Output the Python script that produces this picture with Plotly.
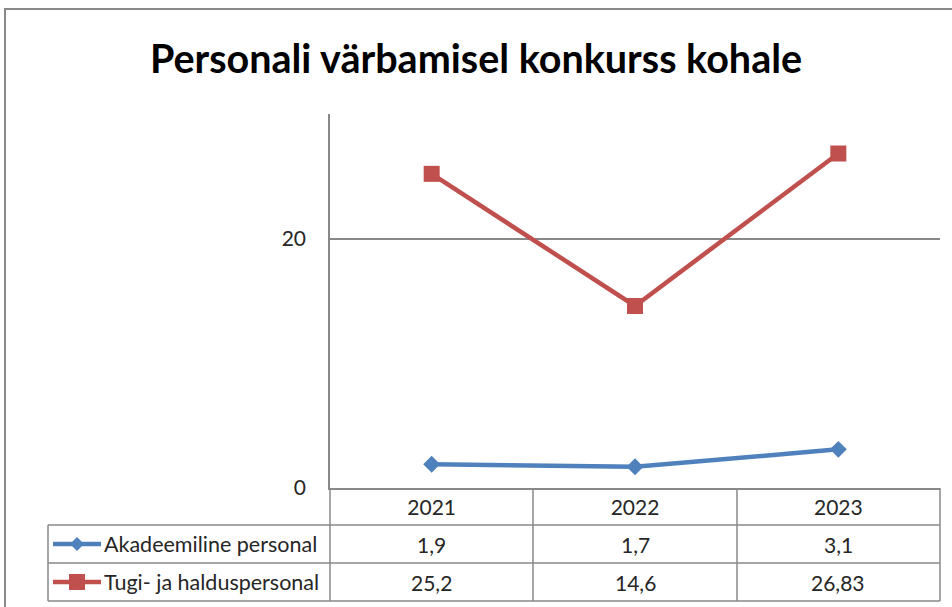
import plotly.graph_objects as go

categories = ["2021", "2022", "2023"]
series_names = ["Akadeemiline personal", "Tugi- ja halduspersonal"]
akadeemiline = [1.9, 1.7, 3.1]
tugi = [25.2, 14.6, 26.83]
y_ticks = [0, 20]

W, H = 952, 607
L, R, T, B = 330, 940, 114, 488  # plot area in pixels

def X(px):
    return (px - L) / (R - L)

def Y(py):
    return (B - py) / (B - T)

FONT = "Lato, Carlito, Calibri, sans-serif"
GRID = "#888888"
BLUE = "#4F81BD"
RED = "#C0504D"
TXT = "#262626"

def fmt(v):
    return ("%g" % v).replace(".", ",")

fig = go.Figure()
fig.add_trace(go.Scatter(x=categories, y=akadeemiline, name=series_names[0], mode="lines+markers",
                         line=dict(color=BLUE, width=4.5),
                         marker=dict(symbol="diamond", size=13, color=BLUE)))
fig.add_trace(go.Scatter(x=categories, y=tugi, name=series_names[1], mode="lines+markers",
                         line=dict(color=RED, width=4.5),
                         marker=dict(symbol="square", size=16, color=RED)))

shapes = []
def line(x0, y0, x1, y1, color=GRID, width=1.5):
    shapes.append(dict(type="line", xref="paper", yref="paper",
                       x0=X(x0), y0=Y(y0), x1=X(x1), y1=Y(y1),
                       line=dict(color=color, width=width), layer="above"))

# outer frame
shapes.append(dict(type="rect", xref="paper", yref="paper",
                   x0=X(5), y0=Y(9), x1=X(970), y1=Y(640),
                   line=dict(color="#8a8a8a", width=2), layer="below"))

# data table grid
col_x = [330, 533, 737, 940]
line(48, 525, 940, 525)
line(48, 563, 940, 563)
line(48, 601, 940, 601)
line(48, 525, 48, 601)
for cx in col_x:
    line(cx, 488, cx, 601)

annotations = []
rows = [akadeemiline, tugi]
row_centers = [544, 582]
colors = [BLUE, RED]
for ri, (vals, yc) in enumerate(zip(rows, row_centers)):
    for ci, v in enumerate(vals):
        annotations.append(dict(x=ci, xref="x", y=Y(yc), yref="paper", text=fmt(v),
                                showarrow=False, xanchor="center", yanchor="middle",
                                font=dict(family=FONT, size=21, color=TXT)))
    annotations.append(dict(x=X(102), xref="paper", y=Y(yc), yref="paper", text=series_names[ri],
                            showarrow=False, xanchor="left", yanchor="middle",
                            font=dict(family=FONT, size=21.5, color=TXT)))
    line(53, yc, 101, yc, color=colors[ri], width=4.5)

shapes.append(dict(type="path", xref="paper", yref="paper", xsizemode="pixel", ysizemode="pixel",
                   xanchor=X(77), yanchor=Y(544), path="M -7 0 L 0 7 L 7 0 L 0 -7 Z",
                   fillcolor=BLUE, line=dict(color=BLUE, width=0), layer="above"))
shapes.append(dict(type="rect", xref="paper", yref="paper", xsizemode="pixel", ysizemode="pixel",
                   xanchor=X(77), yanchor=Y(582), x0=-8, x1=8, y0=-8, y1=8,
                   fillcolor=RED, line=dict(color=RED, width=0), layer="above"))

fig.update_layout(
    width=W, height=H,
    margin=dict(l=L, r=W - R, t=T, b=H - B),
    paper_bgcolor="white", plot_bgcolor="white",
    showlegend=False,
    title=dict(text="<b>Personali värbamisel konkurss kohale</b>", x=0.5, xref="container",
               xanchor="center", y=1 - 59 / H, yref="container", yanchor="middle",
               font=dict(family=FONT, size=39.5, color="black")),
    xaxis=dict(type="category", range=[-0.5, 2.5], showgrid=False, zeroline=False,
               showline=True, linecolor=GRID, linewidth=1.5,
               tickfont=dict(family=FONT, size=21, color=TXT), ticks="", ticklabelstandoff=0),
    yaxis=dict(range=[0, 30], tickvals=y_ticks, showgrid=True, gridcolor=GRID, gridwidth=1.5,
               zeroline=False, showline=True, linecolor=GRID, linewidth=1.5,
               tickfont=dict(family=FONT, size=21, color=TXT), ticks="", ticklabelstandoff=18),
    shapes=shapes,
    annotations=annotations,
)

fig.write_html("out.html", config={"displayModeBar": False},
               post_script="document.body.style.margin='0';")
